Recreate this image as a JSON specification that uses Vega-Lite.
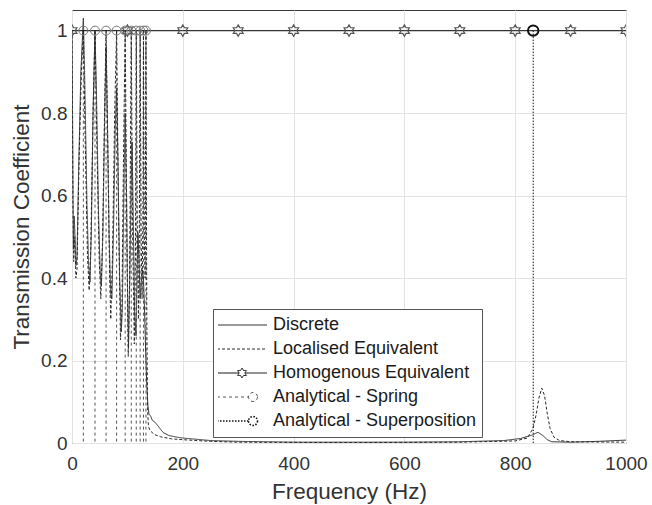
{
  "$schema": "https://vega.github.io/schema/vega-lite/v6.json",
  "width": 554,
  "height": 433,
  "autosize": {"type": "none"},
  "padding": {"left": 72, "top": 10, "right": 26, "bottom": 62},
  "background": "white",
  "config": {
    "font": "Liberation Sans",
    "view": {"stroke": "#3a3a3a", "strokeWidth": 1},
    "axis": {
      "labelFont": "Liberation Sans",
      "titleFont": "Liberation Sans",
      "labelColor": "#333333",
      "titleColor": "#333333",
      "titleFontWeight": "normal",
      "grid": true,
      "gridColor": "#e3e3e3",
      "gridWidth": 1,
      "domain": false,
      "ticks": false,
      "tickSize": 0,
      "labelFlush": false
    }
  },
  "datasets": {
    "curves": [
      {"series": "Discrete", "f": 0, "T": 1.0},
      {"series": "Discrete", "f": 1, "T": 0.8},
      {"series": "Discrete", "f": 2.5, "T": 0.47},
      {"series": "Discrete", "f": 4, "T": 0.55},
      {"series": "Discrete", "f": 5.5, "T": 0.5},
      {"series": "Discrete", "f": 7, "T": 0.43},
      {"series": "Discrete", "f": 9, "T": 0.45},
      {"series": "Discrete", "f": 12, "T": 0.66},
      {"series": "Discrete", "f": 16, "T": 0.9},
      {"series": "Discrete", "f": 20.5, "T": 1.03},
      {"series": "Discrete", "f": 23, "T": 0.88},
      {"series": "Discrete", "f": 27, "T": 0.58},
      {"series": "Discrete", "f": 30, "T": 0.43},
      {"series": "Discrete", "f": 32.5, "T": 0.39},
      {"series": "Discrete", "f": 35, "T": 0.52},
      {"series": "Discrete", "f": 38, "T": 0.8},
      {"series": "Discrete", "f": 41.5, "T": 1.0},
      {"series": "Discrete", "f": 44, "T": 0.86},
      {"series": "Discrete", "f": 48, "T": 0.55},
      {"series": "Discrete", "f": 51, "T": 0.41},
      {"series": "Discrete", "f": 53, "T": 0.38},
      {"series": "Discrete", "f": 56, "T": 0.52},
      {"series": "Discrete", "f": 59, "T": 0.8},
      {"series": "Discrete", "f": 61.5, "T": 0.96},
      {"series": "Discrete", "f": 64, "T": 0.78},
      {"series": "Discrete", "f": 67, "T": 0.5},
      {"series": "Discrete", "f": 70, "T": 0.36},
      {"series": "Discrete", "f": 72, "T": 0.35},
      {"series": "Discrete", "f": 75, "T": 0.52},
      {"series": "Discrete", "f": 78, "T": 0.76},
      {"series": "Discrete", "f": 80.5, "T": 0.86},
      {"series": "Discrete", "f": 83, "T": 0.68},
      {"series": "Discrete", "f": 86, "T": 0.4},
      {"series": "Discrete", "f": 89, "T": 0.27},
      {"series": "Discrete", "f": 91, "T": 0.33},
      {"series": "Discrete", "f": 93.5, "T": 0.6},
      {"series": "Discrete", "f": 96, "T": 0.8},
      {"series": "Discrete", "f": 98.5, "T": 0.6},
      {"series": "Discrete", "f": 100.5, "T": 0.33},
      {"series": "Discrete", "f": 102, "T": 0.23},
      {"series": "Discrete", "f": 104.5, "T": 0.42},
      {"series": "Discrete", "f": 107, "T": 0.64},
      {"series": "Discrete", "f": 108.5, "T": 0.73},
      {"series": "Discrete", "f": 110.5, "T": 0.55},
      {"series": "Discrete", "f": 113, "T": 0.32},
      {"series": "Discrete", "f": 115.5, "T": 0.26},
      {"series": "Discrete", "f": 117.5, "T": 0.42},
      {"series": "Discrete", "f": 119, "T": 0.51},
      {"series": "Discrete", "f": 121, "T": 0.44},
      {"series": "Discrete", "f": 123, "T": 0.35},
      {"series": "Discrete", "f": 125, "T": 0.39},
      {"series": "Discrete", "f": 127, "T": 0.42},
      {"series": "Discrete", "f": 129, "T": 0.4},
      {"series": "Discrete", "f": 131, "T": 0.32},
      {"series": "Discrete", "f": 133, "T": 0.22},
      {"series": "Discrete", "f": 135, "T": 0.14},
      {"series": "Discrete", "f": 137, "T": 0.09},
      {"series": "Discrete", "f": 139, "T": 0.07},
      {"series": "Discrete", "f": 142, "T": 0.065},
      {"series": "Discrete", "f": 145, "T": 0.055},
      {"series": "Discrete", "f": 150, "T": 0.05},
      {"series": "Discrete", "f": 155, "T": 0.042},
      {"series": "Discrete", "f": 160, "T": 0.033},
      {"series": "Discrete", "f": 165, "T": 0.025},
      {"series": "Discrete", "f": 175, "T": 0.018},
      {"series": "Discrete", "f": 190, "T": 0.014},
      {"series": "Discrete", "f": 200, "T": 0.012},
      {"series": "Discrete", "f": 250, "T": 0.006},
      {"series": "Discrete", "f": 300, "T": 0.004},
      {"series": "Discrete", "f": 400, "T": 0.002},
      {"series": "Discrete", "f": 500, "T": 0.002},
      {"series": "Discrete", "f": 600, "T": 0.002},
      {"series": "Discrete", "f": 700, "T": 0.003},
      {"series": "Discrete", "f": 780, "T": 0.006},
      {"series": "Discrete", "f": 810, "T": 0.011},
      {"series": "Discrete", "f": 830, "T": 0.019},
      {"series": "Discrete", "f": 841, "T": 0.026},
      {"series": "Discrete", "f": 850, "T": 0.018},
      {"series": "Discrete", "f": 858, "T": 0.008},
      {"series": "Discrete", "f": 866, "T": 0.003},
      {"series": "Discrete", "f": 900, "T": 0.002},
      {"series": "Discrete", "f": 950, "T": 0.004},
      {"series": "Discrete", "f": 1000, "T": 0.007},

      {"series": "Localised Equivalent", "f": 0, "T": 1.0},
      {"series": "Localised Equivalent", "f": 1.5, "T": 0.6},
      {"series": "Localised Equivalent", "f": 3, "T": 0.44},
      {"series": "Localised Equivalent", "f": 5, "T": 0.5},
      {"series": "Localised Equivalent", "f": 7, "T": 0.4},
      {"series": "Localised Equivalent", "f": 9, "T": 0.42},
      {"series": "Localised Equivalent", "f": 13, "T": 0.7},
      {"series": "Localised Equivalent", "f": 17, "T": 0.9},
      {"series": "Localised Equivalent", "f": 20.5, "T": 1.0},
      {"series": "Localised Equivalent", "f": 24, "T": 0.72},
      {"series": "Localised Equivalent", "f": 28, "T": 0.45},
      {"series": "Localised Equivalent", "f": 31, "T": 0.37},
      {"series": "Localised Equivalent", "f": 34, "T": 0.48},
      {"series": "Localised Equivalent", "f": 38, "T": 0.8},
      {"series": "Localised Equivalent", "f": 41.5, "T": 1.0},
      {"series": "Localised Equivalent", "f": 45, "T": 0.72},
      {"series": "Localised Equivalent", "f": 49, "T": 0.45},
      {"series": "Localised Equivalent", "f": 52, "T": 0.35},
      {"series": "Localised Equivalent", "f": 55, "T": 0.48},
      {"series": "Localised Equivalent", "f": 59, "T": 0.82},
      {"series": "Localised Equivalent", "f": 61.5, "T": 1.0},
      {"series": "Localised Equivalent", "f": 65, "T": 0.68},
      {"series": "Localised Equivalent", "f": 68, "T": 0.4},
      {"series": "Localised Equivalent", "f": 70, "T": 0.3},
      {"series": "Localised Equivalent", "f": 73, "T": 0.45},
      {"series": "Localised Equivalent", "f": 77, "T": 0.8},
      {"series": "Localised Equivalent", "f": 80.5, "T": 1.0},
      {"series": "Localised Equivalent", "f": 84, "T": 0.55},
      {"series": "Localised Equivalent", "f": 87.5, "T": 0.25},
      {"series": "Localised Equivalent", "f": 90, "T": 0.32},
      {"series": "Localised Equivalent", "f": 93, "T": 0.7},
      {"series": "Localised Equivalent", "f": 96, "T": 1.0},
      {"series": "Localised Equivalent", "f": 99, "T": 0.5},
      {"series": "Localised Equivalent", "f": 101.5, "T": 0.21},
      {"series": "Localised Equivalent", "f": 104, "T": 0.4},
      {"series": "Localised Equivalent", "f": 107, "T": 1.0},
      {"series": "Localised Equivalent", "f": 109.5, "T": 0.5},
      {"series": "Localised Equivalent", "f": 112.5, "T": 0.24},
      {"series": "Localised Equivalent", "f": 114.5, "T": 0.45},
      {"series": "Localised Equivalent", "f": 116, "T": 1.0},
      {"series": "Localised Equivalent", "f": 118, "T": 0.5},
      {"series": "Localised Equivalent", "f": 120, "T": 0.3},
      {"series": "Localised Equivalent", "f": 121.5, "T": 0.5},
      {"series": "Localised Equivalent", "f": 123, "T": 1.0},
      {"series": "Localised Equivalent", "f": 124.8, "T": 0.5},
      {"series": "Localised Equivalent", "f": 126.5, "T": 0.35},
      {"series": "Localised Equivalent", "f": 128, "T": 0.55},
      {"series": "Localised Equivalent", "f": 129, "T": 1.0},
      {"series": "Localised Equivalent", "f": 130.5, "T": 0.5},
      {"series": "Localised Equivalent", "f": 132, "T": 0.4},
      {"series": "Localised Equivalent", "f": 133.5, "T": 1.0},
      {"series": "Localised Equivalent", "f": 135, "T": 0.3},
      {"series": "Localised Equivalent", "f": 136.5, "T": 0.08},
      {"series": "Localised Equivalent", "f": 138, "T": 0.04},
      {"series": "Localised Equivalent", "f": 141, "T": 0.03},
      {"series": "Localised Equivalent", "f": 145, "T": 0.025},
      {"series": "Localised Equivalent", "f": 150, "T": 0.02},
      {"series": "Localised Equivalent", "f": 160, "T": 0.015},
      {"series": "Localised Equivalent", "f": 180, "T": 0.01},
      {"series": "Localised Equivalent", "f": 200, "T": 0.008},
      {"series": "Localised Equivalent", "f": 250, "T": 0.004},
      {"series": "Localised Equivalent", "f": 300, "T": 0.002},
      {"series": "Localised Equivalent", "f": 500, "T": 0.001},
      {"series": "Localised Equivalent", "f": 700, "T": 0.002},
      {"series": "Localised Equivalent", "f": 800, "T": 0.005},
      {"series": "Localised Equivalent", "f": 822, "T": 0.012},
      {"series": "Localised Equivalent", "f": 832, "T": 0.035},
      {"series": "Localised Equivalent", "f": 838, "T": 0.07},
      {"series": "Localised Equivalent", "f": 843, "T": 0.11},
      {"series": "Localised Equivalent", "f": 848, "T": 0.133},
      {"series": "Localised Equivalent", "f": 853, "T": 0.115},
      {"series": "Localised Equivalent", "f": 858, "T": 0.07},
      {"series": "Localised Equivalent", "f": 863, "T": 0.035},
      {"series": "Localised Equivalent", "f": 870, "T": 0.014},
      {"series": "Localised Equivalent", "f": 880, "T": 0.006},
      {"series": "Localised Equivalent", "f": 900, "T": 0.003},
      {"series": "Localised Equivalent", "f": 1000, "T": 0.002},

      {"series": "Homogenous Equivalent", "f": 0, "T": 1},
      {"series": "Homogenous Equivalent", "f": 100, "T": 1},
      {"series": "Homogenous Equivalent", "f": 200, "T": 1},
      {"series": "Homogenous Equivalent", "f": 300, "T": 1},
      {"series": "Homogenous Equivalent", "f": 400, "T": 1},
      {"series": "Homogenous Equivalent", "f": 500, "T": 1},
      {"series": "Homogenous Equivalent", "f": 600, "T": 1},
      {"series": "Homogenous Equivalent", "f": 700, "T": 1},
      {"series": "Homogenous Equivalent", "f": 800, "T": 1},
      {"series": "Homogenous Equivalent", "f": 900, "T": 1},
      {"series": "Homogenous Equivalent", "f": 1000, "T": 1}
    ],
    "analytical": [
      {"series": "Analytical - Spring", "f": 20.5, "T": 1},
      {"series": "Analytical - Spring", "f": 41.5, "T": 1},
      {"series": "Analytical - Spring", "f": 61.5, "T": 1},
      {"series": "Analytical - Spring", "f": 80.5, "T": 1},
      {"series": "Analytical - Spring", "f": 96, "T": 1},
      {"series": "Analytical - Spring", "f": 107, "T": 1},
      {"series": "Analytical - Spring", "f": 116, "T": 1},
      {"series": "Analytical - Spring", "f": 123, "T": 1},
      {"series": "Analytical - Spring", "f": 129, "T": 1},
      {"series": "Analytical - Spring", "f": 133.5, "T": 1},
      {"series": "Analytical - Superposition", "f": 832.5, "T": 1}
    ]
  },
  "encoding": {
    "x": {
      "field": "f",
      "type": "quantitative",
      "scale": {"domain": [0, 1000], "nice": false},
      "axis": {
        "values": [0, 200, 400, 600, 800, 1000],
        "format": "d",
        "title": "Frequency (Hz)",
        "labelFontSize": 19,
        "titleFontSize": 22.5,
        "labelPadding": 11,
        "titlePadding": 7
      }
    },
    "y": {
      "field": "T",
      "type": "quantitative",
      "scale": {"domain": [0, 1.05], "nice": false, "zero": false},
      "axis": {
        "values": [0, 0.2, 0.4, 0.6, 0.8, 1],
        "format": "~g",
        "title": "Transmission Coefficient",
        "labelFontSize": 19,
        "titleFontSize": 22.5,
        "labelPadding": 5,
        "titlePadding": 7
      }
    }
  },
  "layer": [
    {
      "data": {"name": "analytical"},
      "mark": {"type": "rule", "strokeWidth": 1, "clip": true},
      "encoding": {
        "y2": {"datum": 0},
        "color": {
          "field": "series",
          "type": "nominal",
          "scale": {
            "domain": ["Discrete", "Localised Equivalent", "Homogenous Equivalent", "Analytical - Spring", "Analytical - Superposition"],
            "range": ["#333333", "#2a2a2a", "#1a1a1a", "#555555", "#111111"]
          },
          "legend": {
            "orient": "none",
            "legendX": 141,
            "legendY": 299,
            "title": null,
            "labelFontSize": 18,
            "labelColor": "#1a1a1a",
            "labelFont": "Liberation Sans",
            "labelLimit": 400,
            "symbolSize": 2500,
            "symbolType": "M-1,0L1,0",
            "symbolStrokeWidth": 1,
            "symbolOffset": 15,
            "clipHeight": 22,
            "rowPadding": 2,
            "padding": 5,
            "labelOffset": 22,
            "strokeColor": "#555555",
            "fillColor": "white",
            "symbolFillColor": "transparent",
            "encode": {
              "symbols": {
                "update": {
                  "shape": {"signal": "datum.value === 'Homogenous Equivalent' ? 'M-1,0L-0.1155,0M0.1155,0L1,0M0,-0.2L0.0578,-0.1L0.1732,-0.1L0.1155,0L0.1732,0.1L0.0578,0.1L0,0.2L-0.0578,0.1L-0.1732,0.1L-0.1155,0L-0.1732,-0.1L-0.0578,-0.1Z' : ((datum.value === 'Analytical - Spring' || datum.value === 'Analytical - Superposition') ? 'M-1,0L0.26,0M0.62,0A0.18,0.18,0,1,1,0.26,0A0.18,0.18,0,1,1,0.62,0' : 'M-1,0L1,0')"},
                  "size": {"value": 2500},
                  "fill": {"value": "transparent"},
                  "strokeWidth": {"signal": "datum.value === 'Analytical - Superposition' ? 1.6 : 1"}
                }
              }
            }
          }
        },
        "strokeDash": {
          "field": "series",
          "type": "nominal",
          "scale": {
            "domain": ["Discrete", "Localised Equivalent", "Homogenous Equivalent", "Analytical - Spring", "Analytical - Superposition"],
            "range": [[1, 0], [3, 2], [1, 0], [3, 3], [1.5, 1.5]]
          }
        }
      }
    },
    {
      "data": {"name": "curves"},
      "mark": {"type": "line", "strokeWidth": 1, "clip": true},
      "encoding": {
        "color": {"field": "series", "type": "nominal"},
        "strokeDash": {"field": "series", "type": "nominal"}
      }
    },
    {
      "data": {"name": "curves"},
      "transform": [{"filter": "datum.series === 'Homogenous Equivalent'"}],
      "mark": {
        "type": "point",
        "shape": "M0,-1L0.289,-0.5L0.866,-0.5L0.577,0L0.866,0.5L0.289,0.5L0,1L-0.289,0.5L-0.866,0.5L-0.577,0L-0.866,-0.5L-0.289,-0.5Z",
        "size": 130,
        "filled": false,
        "color": "#555555",
        "strokeWidth": 1.2,
        "opacity": 1,
        "clip": true
      }
    },
    {
      "data": {"name": "analytical"},
      "transform": [{"filter": "datum.series === 'Analytical - Spring'"}],
      "mark": {"type": "point", "shape": "circle", "size": 80, "filled": false, "color": "#777777", "strokeWidth": 1, "opacity": 1}
    },
    {
      "data": {"name": "analytical"},
      "transform": [{"filter": "datum.series === 'Analytical - Superposition'"}],
      "mark": {"type": "point", "shape": "circle", "size": 110, "filled": false, "color": "#111111", "strokeWidth": 2, "opacity": 1}
    }
  ]
}
